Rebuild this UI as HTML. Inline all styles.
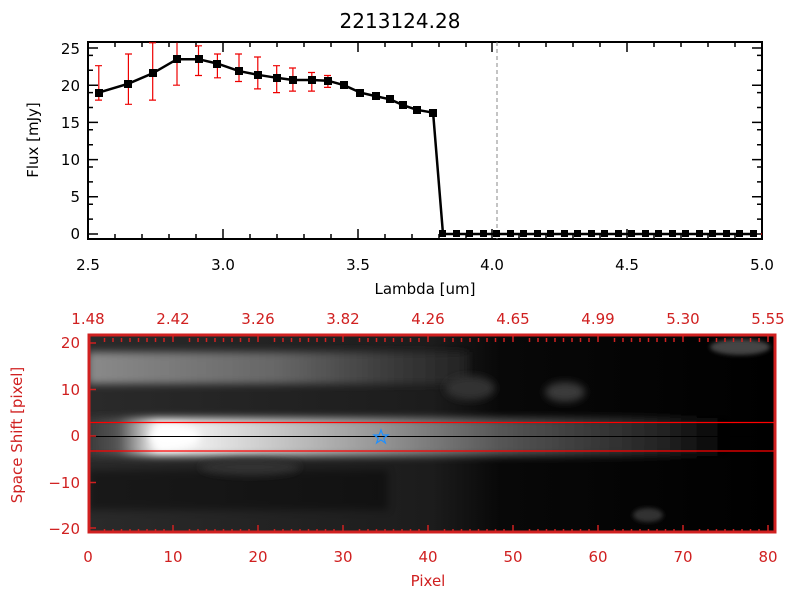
<!DOCTYPE html><html><head><style>body{margin:0;background:#fff}svg{display:block}text{font-family:"DejaVu Sans","Liberation Sans",sans-serif}</style></head><body>
<svg width="800" height="600" viewBox="0 0 800 600">
<defs>
<filter id="b" x="-50%" y="-50%" width="200%" height="200%"><feGaussianBlur stdDeviation="4"/></filter>
<filter id="b2" x="-50%" y="-50%" width="200%" height="200%"><feGaussianBlur stdDeviation="2"/></filter>
<linearGradient id="gm" x1="0" x2="1"><stop offset="0" stop-color="#333"/><stop offset="0.06" stop-color="#555"/><stop offset="0.12" stop-color="#fff"/><stop offset="0.45" stop-color="#999"/><stop offset="0.65" stop-color="#555"/><stop offset="0.9" stop-color="#222"/><stop offset="1" stop-color="#000"/></linearGradient>
<linearGradient id="gu" x1="0" x2="1"><stop offset="0" stop-color="#8a8a8a"/><stop offset="0.5" stop-color="#666"/><stop offset="0.8" stop-color="#3a3a3a"/><stop offset="1" stop-color="#222"/></linearGradient>
<linearGradient id="gbg" x1="0" x2="1"><stop offset="0" stop-color="#2a2a2a"/><stop offset="0.5" stop-color="#1c1c1c"/><stop offset="0.6" stop-color="#080808"/><stop offset="1" stop-color="#000"/></linearGradient>
<clipPath id="c"><rect x="88" y="334" width="688" height="199"/></clipPath>
</defs>
<text x="400" y="28" font-size="20" text-anchor="middle">2213124.28</text>
<rect x="88" y="42" width="674" height="197" fill="none" stroke="#000" stroke-width="2"/>
<g stroke="#000" stroke-width="1.5">
<path d="M88 239v-10M223 239v-10M358 239v-10M492 239v-10M627 239v-10M762 239v-10M88 42v10M223 42v10M358 42v10M492 42v10M627 42v10M762 42v10"/>
<path d="M115 239v-5M142 239v-5M169 239v-5M196 239v-5M250 239v-5M277 239v-5M304 239v-5M331 239v-5M385 239v-5M412 239v-5M439 239v-5M466 239v-5M519 239v-5M546 239v-5M573 239v-5M600 239v-5M654 239v-5M681 239v-5M708 239v-5M735 239v-5
M115 42v5M142 42v5M169 42v5M196 42v5M250 42v5M277 42v5M304 42v5M331 42v5M385 42v5M412 42v5M439 42v5M466 42v5M519 42v5M546 42v5M573 42v5M600 42v5M654 42v5M681 42v5M708 42v5M735 42v5"/>
<path d="M88 234h10M88 196.8h10M88 159.6h10M88 122.4h10M88 85.2h10M88 48h10M762 234h-10M762 196.8h-10M762 159.6h-10M762 122.4h-10M762 85.2h-10M762 48h-10"/>
<path d="M88 219.1h5M88 204.2h5M88 181.9h5M88 167h5M88 144.7h5M88 129.8h5M88 107.5h5M88 92.6h5M88 70.3h5M88 55.4h5M762 219.1h-5M762 204.2h-5M762 181.9h-5M762 167h-5M762 144.7h-5M762 129.8h-5M762 107.5h-5M762 92.6h-5M762 70.3h-5M762 55.4h-5"/>
</g>
<g font-size="15" text-anchor="end">
<text x="80" y="239">0</text><text x="80" y="202">5</text><text x="80" y="165">10</text><text x="80" y="128">15</text><text x="80" y="91">20</text><text x="80" y="54">25</text></g>
<g font-size="15" text-anchor="middle">
<text x="88" y="270">2.5</text><text x="223" y="270">3.0</text><text x="358" y="270">3.5</text><text x="492" y="270">4.0</text><text x="627" y="270">4.5</text><text x="762" y="270">5.0</text>
<text x="425" y="294">Lambda [um]</text></g>
<text transform="translate(38 140) rotate(-90)" font-size="15" text-anchor="middle">Flux [mJy]</text>
<line x1="497" y1="42" x2="497" y2="239" stroke="#888" stroke-dasharray="4,3"/>
<g stroke="#e00" stroke-width="1.2" fill="none">
<path d="M98.8 100.1V65.7M128.4 104.3V54M152.7 100.1V42.8M177 85.2V42.8M198.5 75.5V45.8M217.4 77.8V54M239 81.5V54M257.8 88.9V57M276.7 92.6V65.7M292.9 91.1V68M311.8 91.1V72.5M327.9 87.4V75.5M344.1 89V81M360.3 96V89M376.5 100V93M390 103V96M403.4 108V102M416.9 113V107M433.1 116V109"/>
<path d="M95 100.1h7M95 65.7h7M125 104.3h7M125 54h7M149 100.1h7M149 42.8h7M173 85.2h7M195 75.5h7M195 45.8h7M214 77.8h7M214 54h7M235 81.5h7M235 54h7M254 88.9h7M254 57h7M273 92.6h7M273 65.7h7M289 91.1h7M289 68h7M308 91.1h7M308 72.5h7M324 87.4h7M324 75.5h7"/>
<line x1="446" y1="234" x2="762" y2="234" stroke-dasharray="5,4"/>
</g>
<polyline fill="none" stroke="#000" stroke-width="2.5" points="98.8,92.6 128.4,83.7 152.7,73.3 177,59.2 198.5,59.2 217.4,63.6 239,71.1 257.8,74.8 276.7,77.8 292.9,80 311.8,80 327.9,80.7 344.1,85.2 360.3,92.6 376.5,96.4 390,99.3 403.4,105.3 416.9,109.8 433.1,112.7 443,234 757,234"/>
<g fill="#000">
<rect x="95" y="89" width="8" height="8"/><rect x="124" y="80" width="8" height="8"/><rect x="149" y="69" width="8" height="8"/><rect x="173" y="55" width="8" height="8"/><rect x="195" y="55" width="8" height="8"/><rect x="213" y="60" width="8" height="8"/><rect x="235" y="67" width="8" height="8"/><rect x="254" y="71" width="8" height="8"/><rect x="273" y="74" width="8" height="8"/><rect x="289" y="76" width="8" height="8"/><rect x="308" y="76" width="8" height="8"/><rect x="324" y="77" width="8" height="8"/><rect x="340" y="81" width="8" height="8"/><rect x="356" y="89" width="8" height="8"/><rect x="372" y="92" width="8" height="8"/><rect x="386" y="95" width="8" height="8"/><rect x="399" y="101" width="8" height="8"/><rect x="413" y="106" width="8" height="8"/><rect x="429" y="109" width="8" height="8"/>
<g id="z"><rect x="439" y="230" width="7" height="7"/><rect x="453" y="230" width="7" height="7"/><rect x="466" y="230" width="7" height="7"/><rect x="480" y="230" width="7" height="7"/><rect x="493" y="230" width="7" height="7"/><rect x="507" y="230" width="7" height="7"/><rect x="520" y="230" width="7" height="7"/><rect x="534" y="230" width="7" height="7"/><rect x="547" y="230" width="7" height="7"/><rect x="561" y="230" width="7" height="7"/><rect x="574" y="230" width="7" height="7"/><rect x="588" y="230" width="7" height="7"/></g>
<use href="#z" x="162"/></g>
<g clip-path="url(#c)">
<rect x="88" y="334" width="688" height="199" fill="url(#gbg)"/>
<rect x="88" y="470" width="300" height="40" fill="#000" opacity="0.4" filter="url(#b)"/>
<rect x="88" y="352" width="380" height="32" fill="url(#gu)" filter="url(#b)"/>
<rect x="80" y="418" width="650" height="38" fill="url(#gm)" filter="url(#b)"/>
<ellipse cx="175" cy="437" rx="25" ry="11" fill="#fff" filter="url(#b)"/>
<ellipse cx="250" cy="467" rx="50" ry="8" fill="#333" filter="url(#b)"/>
<ellipse cx="470" cy="388" rx="25" ry="12" fill="#333" filter="url(#b)"/>
<ellipse cx="565" cy="392" rx="20" ry="10" fill="#3a3a3a" filter="url(#b)"/>
<ellipse cx="740" cy="347" rx="30" ry="8" fill="#444" filter="url(#b2)"/>
<ellipse cx="648" cy="515" rx="15" ry="7" fill="#333" filter="url(#b2)"/>
</g>
<line x1="88" y1="422.5" x2="776" y2="422.5" stroke="#f00" stroke-width="1.3"/>
<line x1="88" y1="451" x2="776" y2="451" stroke="#f00" stroke-width="1.3"/>
<line x1="88" y1="436.5" x2="776" y2="436.5" stroke="#000"/>
<path d="M381 430l1.8 5h5.2l-4.2 3 1.6 5-4.4-3.1-4.4 3.1 1.6-5-4.2-3h5.2z" fill="none" stroke="#1e90ff" stroke-width="1.2"/>
<rect x="89" y="335" width="686" height="197" fill="none" stroke="#d02020" stroke-width="3"/>
<g stroke="#d02020" stroke-width="1.5">
<path d="M173 533v-8M258 533v-8M343 533v-8M428 533v-8M513 533v-8M598 533v-8M683 533v-8M768 533v-8M173 334v8M258 334v8M343 334v8M428 334v8M513 334v8M598 334v8M683 334v8M768 334v8M88 343h8M88 389.5h8M88 436h8M88 482.5h8M88 528h8"/>
<path d="M104.5 533v-4M113 533v-4M121.5 533v-4M130 533v-4M138.5 533v-4M147 533v-4M155.5 533v-4M164 533v-4" id="mt"/>
<use href="#mt" x="85"/><use href="#mt" x="170"/><use href="#mt" x="255"/><use href="#mt" x="340"/><use href="#mt" x="425"/><use href="#mt" x="510"/><use href="#mt" x="595"/>
<g transform="translate(0 -191)"><use href="#mt"/><use href="#mt" x="85"/><use href="#mt" x="170"/><use href="#mt" x="255"/><use href="#mt" x="340"/><use href="#mt" x="425"/><use href="#mt" x="510"/><use href="#mt" x="595"/></g>
</g>
<g fill="#d02020" font-size="15">
<g text-anchor="end"><text x="80" y="348">20</text><text x="80" y="395">10</text><text x="80" y="441">0</text><text x="80" y="488">−10</text><text x="80" y="534">−20</text></g>
<g text-anchor="middle"><text x="88" y="562">0</text><text x="173" y="562">10</text><text x="258" y="562">20</text><text x="343" y="562">30</text><text x="428" y="562">40</text><text x="513" y="562">50</text><text x="598" y="562">60</text><text x="683" y="562">70</text><text x="768" y="562">80</text>
<text x="88" y="324">1.48</text><text x="173" y="324">2.42</text><text x="258" y="324">3.26</text><text x="343" y="324">3.82</text><text x="428" y="324">4.26</text><text x="513" y="324">4.65</text><text x="598" y="324">4.99</text><text x="683" y="324">5.30</text><text x="768" y="324">5.55</text>
<text x="428" y="586">Pixel</text></g>
<text transform="translate(22 435) rotate(-90)" text-anchor="middle">Space Shift [pixel]</text>
</g>
</svg></body></html>
